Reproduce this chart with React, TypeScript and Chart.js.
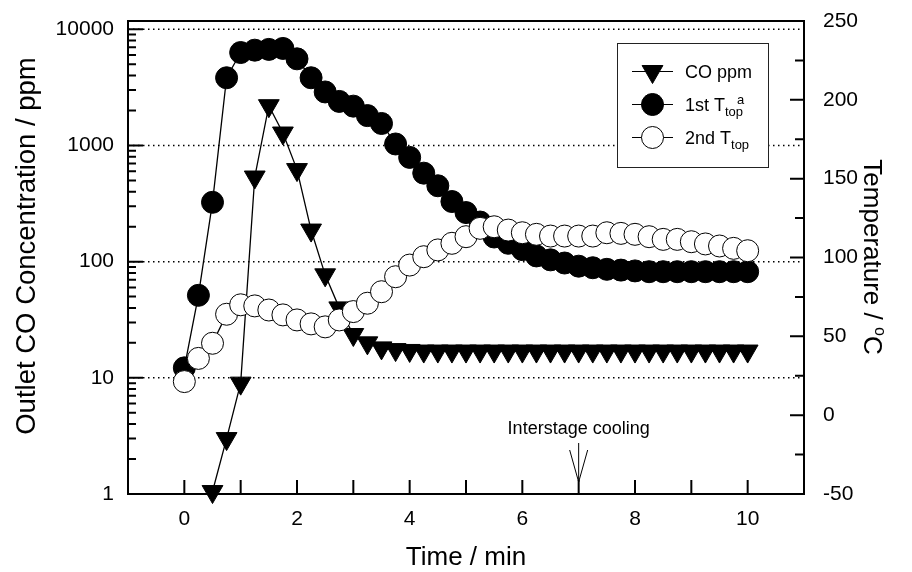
import React, { useEffect, useRef } from 'react';
import { Chart, registerables } from 'chart.js';

Chart.register(...registerables);

// ---------------- data ----------------
const TIME = [0, 0.25, 0.5, 0.75, 1, 1.25, 1.5, 1.75, 2, 2.25, 2.5, 2.75, 3, 3.25, 3.5, 3.75, 4, 4.25, 4.5, 4.75, 5, 5.25, 5.5, 5.75, 6, 6.25, 6.5, 6.75, 7, 7.25, 7.5, 7.75, 8, 8.25, 8.5, 8.75, 9, 9.25, 9.5, 9.75, 10];

const CO_PPM = [null, null, 1.05, 3.0, 9.0, 535, 2200, 1280, 620, 187, 77, 40, 23.6, 20, 18.1, 17.5, 17.2, 17, 17, 17, 17, 17, 17, 17, 17, 17, 17, 17, 17, 17, 17, 17, 17, 17, 17, 17, 17, 17, 17, 17, 17];

const T_TOP_1ST = [30, 76, 135, 214, 230, 231.5, 232, 232.6, 226, 214, 205, 199, 196, 190, 185, 172, 163.5, 153.5, 145.5, 135.5, 128.5, 122.5, 113, 109, 105, 101, 98.5, 96.5, 94.5, 93.5, 92.5, 92, 91.5, 91, 91, 91, 91, 91, 91, 91, 91];

const T_TOP_2ND = [21.3, 36, 45.6, 64, 70, 69.3, 66.7, 63.6, 60.4, 57.9, 56, 60.4, 65.7, 71, 78.3, 87.8, 95.2, 100.5, 104.8, 109, 113.2, 118.5, 119.5, 117.4, 115.7, 114.7, 113.6, 113.6, 113.6, 113.6, 115.7, 115.3, 114.7, 113.2, 111.5, 111.5, 110, 108.6, 107.3, 105.8, 104.3];

// ---------------- ticks / labels ----------------
const X_TICKS = [0, 1, 2, 3, 4, 5, 6, 7, 8, 9, 10];
const X_LABELS = [0, 2, 4, 6, 8, 10];
const PPM_LABELS = [1, 10, 100, 1000, 10000];
const PPM_GRID = [10, 100, 1000, 10000];
const PPM_MINOR = [2, 3, 4, 5, 6, 7, 8, 9];
const TEMP_TICKS = [-50, -25, 0, 25, 50, 75, 100, 125, 150, 175, 200, 225, 250];
const TEMP_LABELS = [-50, 0, 50, 100, 150, 200, 250];

const X_TITLE = 'Time / min';
const Y_TITLE = 'Outlet CO Concentration / ppm';
const Y2_TITLE = 'Temperature / ';
const SERIES_NAMES = ['CO ppm', '1st T', '2nd T'];
const ANNOTATION_TEXT = 'Interstage cooling';
const ANNOTATION_TIME = 7;

const FONT = '"Liberation Sans", Arial, Helvetica, sans-serif';
const PPM_MAX = 11787;

const PPM_TICKS: number[] = [];
for (const d of [1, 10, 100, 1000]) {
  PPM_TICKS.push(d);
  for (const m of PPM_MINOR) PPM_TICKS.push(d * m);
}
PPM_TICKS.push(10000);

function f(size: number) {
  return `${size}px ${FONT}`;
}

type Run = { text: string; size: number; dy: number };

function drawRuns(ctx: CanvasRenderingContext2D, runs: Run[], x: number, y: number) {
  let cx = x;
  for (const r of runs) {
    ctx.font = f(r.size);
    ctx.fillText(r.text, cx, y + r.dy);
    cx += ctx.measureText(r.text).width;
  }
  return cx;
}

function runsWidth(ctx: CanvasRenderingContext2D, runs: Run[]) {
  let w = 0;
  for (const r of runs) {
    ctx.font = f(r.size);
    w += ctx.measureText(r.text).width;
  }
  return w;
}

function drawMarker(ctx: CanvasRenderingContext2D, kind: string, x: number, y: number) {
  ctx.save();
  ctx.lineWidth = 1;
  ctx.strokeStyle = '#000';
  if (kind === 'tri') {
    const r = 12;
    ctx.beginPath();
    for (let k = 0; k < 3; k++) {
      const a = Math.PI + (k * 2 * Math.PI) / 3;
      const px = x + Math.sin(a) * r;
      const py = y - Math.cos(a) * r;
      if (k === 0) ctx.moveTo(px, py);
      else ctx.lineTo(px, py);
    }
    ctx.closePath();
    ctx.fillStyle = '#000';
    ctx.fill();
    ctx.stroke();
  } else {
    ctx.beginPath();
    ctx.arc(x, y, 11, 0, Math.PI * 2);
    ctx.fillStyle = kind === 'filled' ? '#000' : '#fff';
    ctx.fill();
    ctx.stroke();
  }
  ctx.restore();
}

const decorPlugin = {
  id: 'decor',
  beforeDatasetsDraw(chart: any) {
    const { ctx, chartArea: a, scales } = chart;
    const y = scales.y;
    ctx.save();
    ctx.strokeStyle = '#000';
    ctx.lineWidth = 1.5;
    ctx.setLineDash([1.5, 3.5]);
    for (const v of PPM_GRID) {
      const py = y.getPixelForValue(v);
      ctx.beginPath();
      ctx.moveTo(a.left, py);
      ctx.lineTo(a.right, py);
      ctx.stroke();
    }
    ctx.restore();
  },
  afterDatasetsDraw(chart: any) {
    const { ctx, chartArea: a, scales } = chart;
    const x = scales.x;
    const y = scales.y;
    const y1 = scales.y1;
    ctx.save();
    ctx.strokeStyle = '#000';
    ctx.lineWidth = 2;
    ctx.setLineDash([]);
    // ticks, inward
    ctx.beginPath();
    for (const v of X_TICKS) {
      const px = x.getPixelForValue(v);
      ctx.moveTo(px, a.bottom);
      ctx.lineTo(px, a.bottom - 14);
    }
    for (const v of PPM_TICKS) {
      const py = y.getPixelForValue(v);
      const major = PPM_LABELS.includes(v);
      ctx.moveTo(a.left, py);
      ctx.lineTo(a.left + (major ? 15 : 8), py);
    }
    for (const v of TEMP_TICKS) {
      const py = y1.getPixelForValue(v);
      const major = TEMP_LABELS.includes(v);
      ctx.moveTo(a.right, py);
      ctx.lineTo(a.right - (major ? 14 : 9), py);
    }
    ctx.stroke();
    // frame
    ctx.strokeRect(a.left, a.top, a.right - a.left, a.bottom - a.top);

    // legend
    const lx = 617, ly = 43, lw = 151, lh = 124;
    ctx.fillStyle = '#fff';
    ctx.fillRect(lx, ly, lw, lh);
    ctx.lineWidth = 1;
    ctx.strokeStyle = '#222';
    ctx.strokeRect(lx + 0.5, ly + 0.5, lw, lh);
    const rows = [71.5, 104.5, 137.5];
    const kinds = ['tri', 'filled', 'open'];
    rows.forEach((ry, i) => {
      ctx.strokeStyle = '#000';
      ctx.lineWidth = 1.2;
      ctx.beginPath();
      ctx.moveTo(632, ry);
      ctx.lineTo(673, ry);
      ctx.stroke();
      drawMarker(ctx, kinds[i], 652.5, ry);
      ctx.fillStyle = '#000';
      ctx.textAlign = 'left';
      ctx.textBaseline = 'alphabetic';
      const base = ry + 6.5;
      if (i === 0) {
        drawRuns(ctx, [{ text: SERIES_NAMES[0], size: 18, dy: 0 }], 685, base);
      } else {
        const end = drawRuns(ctx, [{ text: SERIES_NAMES[i], size: 18, dy: 0 }, { text: 'top', size: 13, dy: 5 }], 685, base);
        if (i === 1) {
          drawRuns(ctx, [{ text: 'a', size: 13, dy: -7 }], end - 6, base);
        }
      }
    });

    // annotation
    const ax = x.getPixelForValue(ANNOTATION_TIME);
    ctx.fillStyle = '#000';
    ctx.font = f(18);
    ctx.textAlign = 'center';
    ctx.textBaseline = 'alphabetic';
    ctx.fillText(ANNOTATION_TEXT, ax, a.bottom - 60);
    ctx.strokeStyle = '#000';
    ctx.lineWidth = 1;
    ctx.beginPath();
    const tip = a.bottom - 12;
    ctx.moveTo(ax, a.bottom - 51);
    ctx.lineTo(ax, tip);
    ctx.moveTo(ax - 9, tip - 32);
    ctx.lineTo(ax, tip);
    ctx.lineTo(ax + 9, tip - 32);
    ctx.stroke();
    ctx.restore();
  },
  afterDraw(chart: any) {
    const { ctx, chartArea: a } = chart;
    ctx.save();
    ctx.fillStyle = '#000';
    ctx.textBaseline = 'alphabetic';
    // x title
    ctx.font = f(26);
    ctx.textAlign = 'center';
    ctx.fillText(X_TITLE, (a.left + a.right) / 2, 565);
    // left title
    ctx.save();
    ctx.translate(35, 246);
    ctx.rotate(-Math.PI / 2);
    ctx.font = f(27.5);
    ctx.textAlign = 'center';
    ctx.fillText(Y_TITLE, 0, 0);
    ctx.restore();
    // right title
    ctx.save();
    ctx.translate(864, 257);
    ctx.rotate(Math.PI / 2);
    ctx.textAlign = 'left';
    const runs: Run[] = [
      { text: Y2_TITLE, size: 26, dy: 0 },
      { text: 'o', size: 16, dy: -11 },
      { text: 'C', size: 26, dy: 0 },
    ];
    const w = runsWidth(ctx, runs);
    drawRuns(ctx, runs, -w / 2, 0);
    ctx.restore();
    ctx.restore();
  },
};

export default function App() {
  const ref = useRef<HTMLCanvasElement>(null);

  useEffect(() => {
    const canvas = ref.current!;
    const pts = (vals: (number | null)[]) => TIME.map((t, i) => ({ x: t, y: vals[i] }));
    const vFit = (w: number) => (s: any) => {
      s.width = w;
      s.paddingTop = 0;
      s.paddingBottom = 0;
    };
    const chart = new Chart(canvas, {
      type: 'line',
      data: {
        datasets: [
          {
            label: SERIES_NAMES[0],
            data: pts(CO_PPM) as any,
            yAxisID: 'y',
            borderColor: '#000',
            borderWidth: 1.3,
            pointStyle: 'triangle',
            rotation: 180,
            pointRadius: 12,
            pointBackgroundColor: '#000',
            pointBorderColor: '#000',
            pointBorderWidth: 1,
            tension: 0,
            clip: false as any,
            order: 3,
          },
          {
            label: SERIES_NAMES[1],
            data: pts(T_TOP_1ST) as any,
            yAxisID: 'y1',
            borderColor: '#000',
            borderWidth: 1.3,
            pointStyle: 'circle',
            pointRadius: 11,
            pointBackgroundColor: '#000',
            pointBorderColor: '#000',
            pointBorderWidth: 1,
            tension: 0,
            clip: false as any,
            order: 2,
          },
          {
            label: SERIES_NAMES[2],
            data: pts(T_TOP_2ND) as any,
            yAxisID: 'y1',
            borderColor: '#000',
            borderWidth: 1.3,
            pointStyle: 'circle',
            pointRadius: 11,
            pointBackgroundColor: '#fff',
            pointBorderColor: '#000',
            pointBorderWidth: 1,
            tension: 0,
            clip: false as any,
            order: 1,
          },
        ],
      },
      options: {
        responsive: false,
        animation: false,
        devicePixelRatio: 1,
        events: [],
        layout: { padding: { top: 21, left: 0, right: 0, bottom: 0 } },
        plugins: { legend: { display: false }, tooltip: { enabled: false } },
        scales: {
          x: {
            type: 'linear',
            position: 'bottom',
            min: -1,
            max: 11,
            afterBuildTicks: (s: any) => {
              s.ticks = X_TICKS.map((v) => ({ value: v }));
            },
            afterFit: (s: any) => {
              s.height = 78;
              s.paddingLeft = 0;
              s.paddingRight = 0;
            },
            grid: { display: false, drawTicks: false },
            border: { display: false },
            ticks: {
              autoSkip: false,
              maxRotation: 0,
              padding: 13,
              color: '#000',
              font: { family: FONT, size: 21 },
              callback: (v: any) => (X_LABELS.includes(Number(v)) ? String(v) : ''),
            },
          },
          y: {
            type: 'logarithmic',
            position: 'left',
            min: 1,
            max: PPM_MAX,
            afterBuildTicks: (s: any) => {
              s.ticks = PPM_TICKS.map((v) => ({ value: v }));
            },
            afterFit: vFit(128),
            grid: { display: false, drawTicks: false },
            border: { display: false },
            ticks: {
              autoSkip: false,
              padding: 14,
              color: '#000',
              font: { family: FONT, size: 21 },
              callback: (v: any) => (PPM_LABELS.includes(Number(v)) ? String(v) : ''),
            },
          },
          y1: {
            type: 'linear',
            position: 'right',
            min: -50,
            max: 250,
            afterBuildTicks: (s: any) => {
              s.ticks = TEMP_TICKS.map((v) => ({ value: v }));
            },
            afterFit: vFit(108),
            grid: { display: false, drawTicks: false },
            border: { display: false },
            ticks: {
              autoSkip: false,
              padding: 19,
              color: '#000',
              font: { family: FONT, size: 21 },
              callback: (v: any) => (TEMP_LABELS.includes(Number(v)) ? String(v) : ''),
            },
          },
        },
      },
      plugins: [decorPlugin],
    });
    return () => chart.destroy();
  }, []);

  return (
    <div style={{ position: 'fixed', left: 0, top: 0, width: 912, height: 572, background: '#fff' }}>
      <canvas ref={ref} width={912} height={572} style={{ display: 'block', width: 912, height: 572 }} />
    </div>
  );
}
